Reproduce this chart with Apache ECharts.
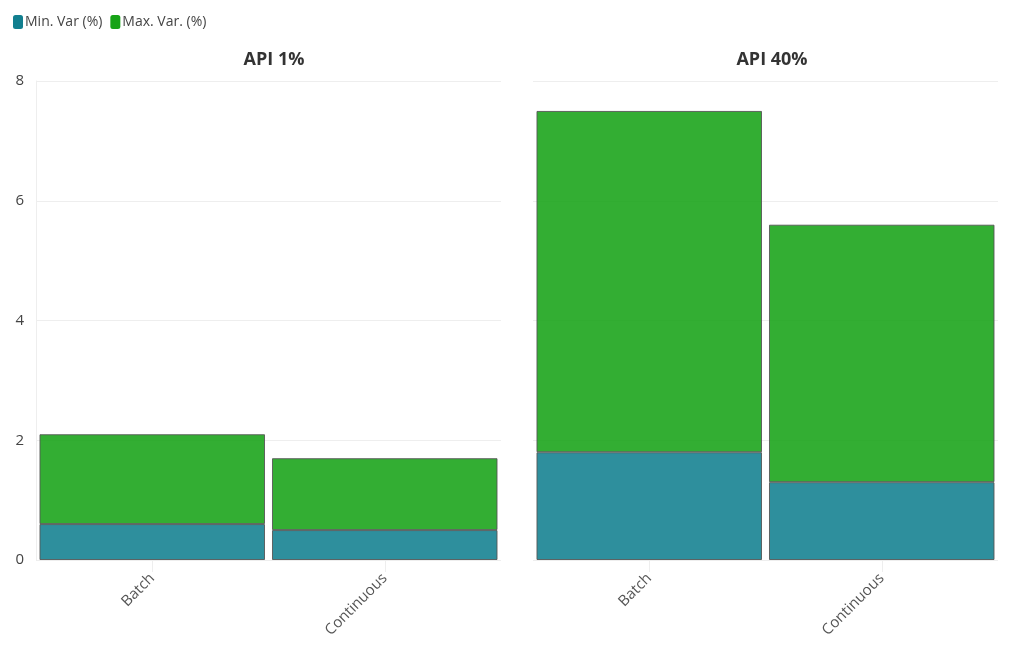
<!DOCTYPE html>
<html>
<head>
<meta charset="utf-8">
<style>
  html, body { margin: 0; padding: 0; background: #fff; }
  #chart { width: 1020px; height: 650px; }
</style>
<script src="https://cdn.jsdelivr.net/npm/echarts@6/dist/echarts.min.js"></script>
</head>
<body>
<div id="chart"></div>
<script>
// data
const panels = ['API 1%', 'API 40%']
const categories = ['Batch', 'Continuous']
// stacked segments
const minVar1 = [0.6, 0.5]
const maxVar1 = [1.5, 1.2]
const minVar2 = [1.8, 1.3]
const maxVar2 = [5.7, 4.3]
const yTicks = [0, 2, 4, 6, 8]

const blue = '#117f8f'
const green = '#17a317'
const font = '"Open Sans", "Noto Sans", sans-serif'

const chart = echarts.init(document.getElementById('chart'))

const barStyle = (color) => ({
  color: color,
  opacity: 0.88,
  borderColor: '#555',
  borderWidth: 1
})

const makeSeries = (name, data, color, idx) => ({
  name: name,
  type: 'bar',
  stack: 'p' + idx,
  xAxisIndex: idx,
  yAxisIndex: idx,
  barCategoryGap: '3%',
  data: data,
  itemStyle: barStyle(color)
})

const xAxis = (idx) => ({
  type: 'category',
  gridIndex: idx,
  data: categories,
  axisLine: { show: false },
  axisTick: { show: true, alignWithLabel: true, length: 12, lineStyle: { color: '#eee' } },
  axisLabel: { rotate: 45, fontSize: 15, color: '#555', fontFamily: font, margin: 16 }
})

const yAxis = (idx) => ({
  type: 'value',
  gridIndex: idx,
  min: yTicks[0],
  max: yTicks[yTicks.length - 1],
  interval: 2,
  axisLine: { show: idx === 0, lineStyle: { color: '#eee' } },
  axisTick: { show: false },
  splitLine: { lineStyle: { color: '#eee' } },
  axisLabel: { show: idx === 0, fontSize: 15, color: '#444', fontFamily: font, margin: 12 }
})

chart.setOption({
  animation: false,
  textStyle: { fontFamily: font },
  title: [
    { text: panels[0], left: 269, top: 46, textAlign: 'center',
      textStyle: { fontSize: 18, fontWeight: 'bold', color: '#333', fontFamily: font } },
    { text: panels[1], left: 767, top: 46, textAlign: 'center',
      textStyle: { fontSize: 18, fontWeight: 'bold', color: '#333', fontFamily: font } }
  ],
  legend: {
    left: 8,
    top: 10,
    icon: 'roundRect',
    itemWidth: 10,
    itemHeight: 14,
    itemGap: 8,
    data: ['Min. Var (%)', 'Max. Var. (%)'],
    itemStyle: { borderWidth: 0, opacity: 1 },
    textStyle: { fontSize: 14, color: '#444', fontFamily: font, padding: [0, 0, 0, -3] }
  },
  grid: [
    { left: 36, right: 519, top: 81, bottom: 90 },
    { left: 533, right: 22, top: 81, bottom: 90 }
  ],
  xAxis: [xAxis(0), xAxis(1)],
  yAxis: [yAxis(0), yAxis(1)],
  series: [
    makeSeries('Min. Var (%)', minVar1, blue, 0),
    makeSeries('Max. Var. (%)', maxVar1, green, 0),
    makeSeries('Min. Var (%)', minVar2, blue, 1),
    makeSeries('Max. Var. (%)', maxVar2, green, 1)
  ]
})
</script>
</body>
</html>
